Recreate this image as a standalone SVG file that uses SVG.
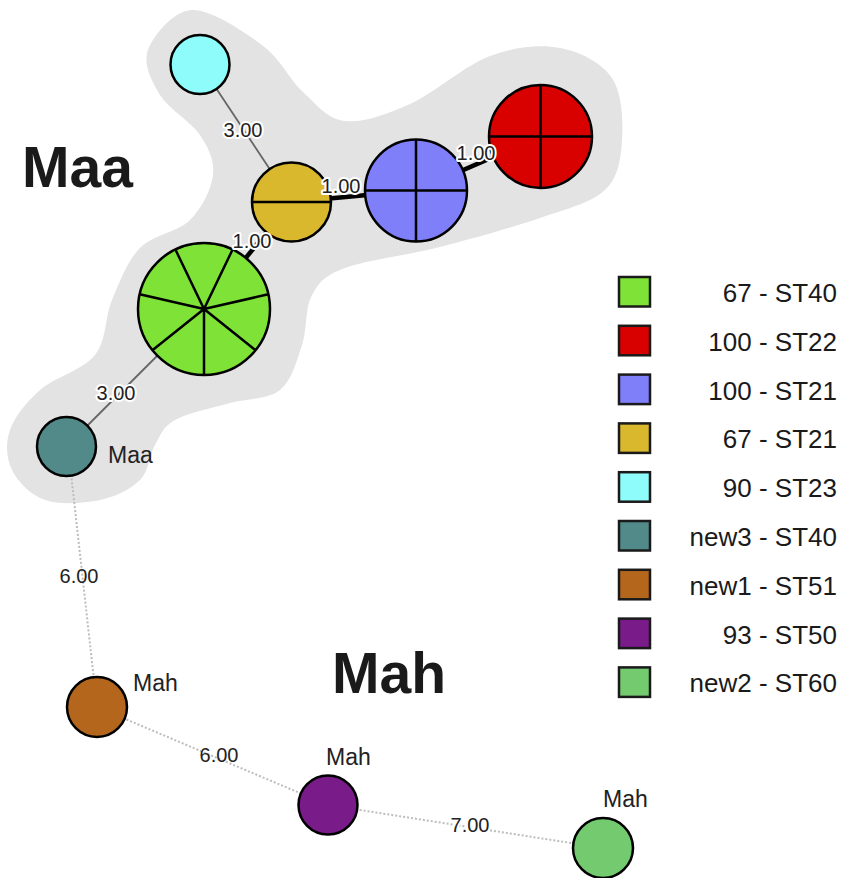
<svg xmlns="http://www.w3.org/2000/svg" width="841" height="878" viewBox="0 0 841 878">
<style>
.node{stroke:#000;stroke-width:2.5}
.div{stroke:#000;stroke-width:2.5;fill:none}
.thin{stroke:#666;stroke-width:1.8}
.thick{stroke:#000;stroke-width:4.5}
.dot{stroke:#bdbdbd;stroke-width:2;stroke-dasharray:2 2}
.el{font-family:"Liberation Sans",Arial,sans-serif;font-size:20px;fill:#222;text-anchor:middle}
.halo{stroke:#fff;stroke-width:4;stroke-linejoin:round;paint-order:stroke}
.nl{font-family:"Liberation Sans",Arial,sans-serif;font-size:23px;fill:#222}
.big{font-family:"Liberation Sans",Arial,sans-serif;font-size:57px;font-weight:bold;fill:#1a1a1a}
.lg{font-family:"Liberation Sans",Arial,sans-serif;font-size:26px;fill:#1a1a1a;text-anchor:end}
.sq{stroke:#1a1a1a;stroke-width:2.5}
</style>
<rect width="841" height="878" fill="#fff"/>
<path id="cluster-maa" fill="#e3e3e3" d="M192,10 C211,9.2 243.5,31.3 262,45 C280.5,58.7 289.2,79.3 303,92 C316.8,104.7 327.2,119 345,121 C362.8,123 385.8,114.8 410,104 C434.2,93.2 465,65.3 490,56 C515,46.7 539.7,44.3 560,48 C580.3,51.7 601.7,62.7 612,78 C622.3,93.3 623.2,121.3 622,140 C620.8,158.7 618.7,177 605,190 C591.3,203 567.5,208.5 540,218 C512.5,227.5 472.5,238.7 440,247 C407.5,255.3 366.3,260 345,268 C323.7,276 319.2,282.2 312,295 C304.8,307.8 307.3,329.2 302,345 C296.7,360.8 292,380.3 280,390 C268,399.7 247.5,398 230,403 C212.5,408 187.5,413 175,420 C162.5,427 160.8,435 155,445 C149.2,455 149.2,470.8 140,480 C130.8,489.2 115.8,496.7 100,500 C84.2,503.3 59.7,505 45,500 C30.3,495 17.8,481.7 12,470 C6.2,458.3 5.3,443.3 10,430 C14.7,416.7 25.8,402.5 40,390 C54.2,377.5 83,370 95,355 C107,340 104.5,317.8 112,300 C119.5,282.2 127,261.3 140,248 C153,234.7 177.8,232.2 190,220 C202.2,207.8 211.3,189.2 213,175 C214.7,160.8 208.8,148.3 200,135 C191.2,121.7 168.7,109.2 160,95 C151.3,80.8 142.7,64.2 148,50 C153.3,35.8 173,10.8 192,10 Z"/>
<text class="big" x="22" y="187">Maa</text>
<text class="big" x="332" y="693">Mah</text>
<g id="connectors">
<line class="thin" x1="200" y1="64" x2="291.5" y2="202"/>
<line class="thick" x1="291.5" y1="202" x2="416" y2="190.5"/>
<line class="thick" x1="416" y1="190.5" x2="540.5" y2="136.5"/>
<line class="thick" x1="291.5" y1="202" x2="204" y2="309"/>
<line class="thin" x1="204" y1="309" x2="66.5" y2="446.5"/>
<line class="dot" x1="68" y1="446.5" x2="97" y2="707"/>
<line class="dot" x1="97" y1="707" x2="328" y2="805"/>
<line class="dot" x1="328" y1="805" x2="603" y2="848"/>
</g>
<g id="node-90-ST23"><circle class="node" cx="200" cy="64.5" r="29.5" fill="#8ffcfc"/></g>
<g id="node-67-ST21"><circle class="node" cx="291.5" cy="202" r="39.5" fill="#d9b82e"/><line class="div" x1="252" y1="202" x2="331" y2="202"/></g>
<g id="node-100-ST21"><circle class="node" cx="416" cy="190.5" r="51" fill="#7f7ff9"/><line class="div" x1="365" y1="190.5" x2="467" y2="190.5"/><line class="div" x1="416" y1="139.5" x2="416" y2="241.5"/></g>
<g id="node-100-ST22"><circle class="node" cx="540.5" cy="136.5" r="51.5" fill="#d90000"/><line class="div" x1="489" y1="136.5" x2="592" y2="136.5"/><line class="div" x1="540.5" y1="85" x2="540.5" y2="188"/></g>
<g id="node-67-ST40"><circle class="node" cx="204" cy="309" r="66" fill="#7fe337"/>
<path class="div" d="M204,309 L204,375 M204,309 L152.4,350.2 M204,309 L139.7,294.3 M204,309 L175.4,249.5 M204,309 L232.6,249.5 M204,309 L268.3,294.3 M204,309 L255.6,350.2"/></g>
<g id="node-new3-ST40"><circle class="node" cx="66.5" cy="446.5" r="29.5" fill="#518a88"/><text class="nl" x="108" y="463">Maa</text></g>
<g id="node-new1-ST51"><circle class="node" cx="97" cy="707" r="30" fill="#b4661c"/><text class="nl" x="133" y="691">Mah</text></g>
<g id="node-93-ST50"><circle class="node" cx="328" cy="805" r="29.5" fill="#791b88"/><text class="nl" x="326" y="765">Mah</text></g>
<g id="node-new2-ST60"><circle class="node" cx="603" cy="848" r="30" fill="#74ca6f"/><text class="nl" x="603" y="807">Mah</text></g>
<g id="edge-labels">
<text class="el halo" x="243" y="137">3.00</text>
<text class="el halo" x="341" y="193">1.00</text>
<text class="el halo" x="476" y="160">1.00</text>
<text class="el halo" x="252" y="248">1.00</text>
<text class="el halo" x="116" y="400">3.00</text>
<text class="el" x="79" y="583">6.00</text>
<text class="el" x="219" y="762">6.00</text>
<text class="el halo" x="470" y="832">7.00</text>
</g>
<g id="legend">
<rect class="sq" x="619" y="277" width="31" height="29.5" fill="#7fe337"/><text class="lg" x="837" y="302">67 - ST40</text>
<rect class="sq" x="619" y="325.8" width="31" height="29.5" fill="#d90000"/><text class="lg" x="837" y="350.8">100 - ST22</text>
<rect class="sq" x="619" y="374.6" width="31" height="29.5" fill="#7f7ff9"/><text class="lg" x="837" y="399.6">100 - ST21</text>
<rect class="sq" x="619" y="423.4" width="31" height="29.5" fill="#d9b82e"/><text class="lg" x="837" y="448.4">67 - ST21</text>
<rect class="sq" x="619" y="472.2" width="31" height="29.5" fill="#8ffcfc"/><text class="lg" x="837" y="497.2">90 - ST23</text>
<rect class="sq" x="619" y="521" width="31" height="29.5" fill="#518a88"/><text class="lg" x="837" y="546">new3 - ST40</text>
<rect class="sq" x="619" y="569.8" width="31" height="29.5" fill="#b4661c"/><text class="lg" x="837" y="594.8">new1 - ST51</text>
<rect class="sq" x="619" y="618.6" width="31" height="29.5" fill="#791b88"/><text class="lg" x="837" y="643.6">93 - ST50</text>
<rect class="sq" x="619" y="667.4" width="31" height="29.5" fill="#74ca6f"/><text class="lg" x="837" y="692.4">new2 - ST60</text>
</g>
</svg>
